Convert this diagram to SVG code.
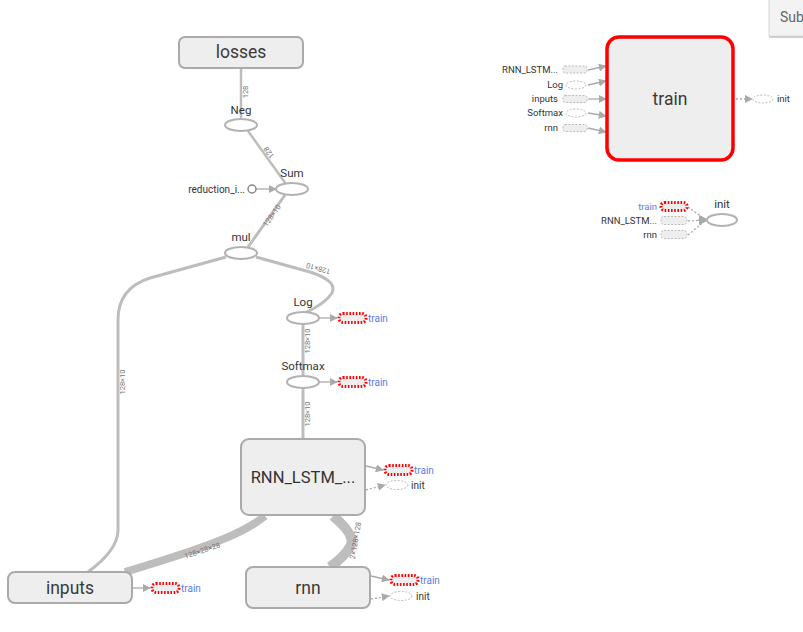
<svg xmlns="http://www.w3.org/2000/svg" width="803" height="632" viewBox="0 0 803 632">
<defs>
<style>
.box{fill:#eeeeee;stroke:#aaaaaa;stroke-width:2}
.op{fill:#ffffff;stroke:#b2b2b2;stroke-width:2}
.lbl{font-family:"Roboto","Liberation Sans",sans-serif;fill:#333;}
.big{font-size:17.5px;text-anchor:middle;fill:#3a3a3a}
.opl{font-size:11.5px;text-anchor:middle}
.sm{font-size:10px}
.el{font-family:"Roboto","Liberation Sans",sans-serif;font-size:7.5px;fill:#777;text-anchor:middle}
.edge{fill:none;stroke:#bdbdbd}
.ctl{fill:none;stroke:#aaaaaa;stroke-width:1.3}
.dot{fill:none;stroke:#aaaaaa;stroke-width:1.3;stroke-dasharray:2 2}
.ser{fill:#eeeeee;stroke:#ff0000;stroke-width:3;stroke-dasharray:1.6 1.6}
.ghost{fill:#eeeeee;stroke:#bbbbbb;stroke-width:1;stroke-dasharray:2 1.5}
.ghe{fill:#ffffff;stroke:#bbbbbb;stroke-width:1;stroke-dasharray:2 1.5}
.blue{fill:#5b7ee8}
</style>
<marker id="ar" viewBox="0 0 10 10" refX="9" refY="5" markerWidth="8" markerHeight="8" markerUnits="userSpaceOnUse" orient="auto"><path d="M0,0 L10,5 L0,10 z" fill="#aaaaaa"/></marker>
<marker id="ar2" viewBox="0 0 10 10" refX="9" refY="5" markerWidth="10" markerHeight="10" markerUnits="userSpaceOnUse" orient="auto"><path d="M0,0 L10,5 L0,10 z" fill="#aaaaaa"/></marker>
</defs>

<g id="edges">
<path class="edge" stroke-width="2.5" d="M241,68 L241,119"/>
<text class="el" transform="translate(248,92) rotate(-90)">128</text>
<path class="edge" stroke-width="2.5" d="M286,184 L248,131"/>
<text class="el" transform="translate(271,151) rotate(-126)">128</text>
<path class="edge" stroke-width="3" d="M248,247 L285,195"/>
<text class="el" transform="translate(274,217) rotate(-55)">128×10</text>
<path class="edge" stroke-width="3" d="M256,257 L310,272 Q338,281 332,293 Q326,303 305,313"/>
<text class="el" transform="translate(319,266) rotate(196)">128×10</text>
<path class="edge" stroke-width="3" d="M226,257 L150,278 Q118,288 118,320 L118,530 Q118,550 88,572"/>
<text class="el" transform="translate(125,382) rotate(-90)">128×10</text>
<path class="edge" stroke-width="3" d="M303,324 L303,376"/>
<text class="el" transform="translate(310,341) rotate(-90)">128×10</text>
<path class="edge" stroke-width="3" d="M303,388 L303,439"/>
<text class="el" transform="translate(310,414) rotate(-90)">128×10</text>
<path class="edge" stroke-width="8" d="M265,516 C245,532 215,545 125,572"/>
<text class="el" transform="translate(203,553) rotate(-18)">128×28×28</text>
<path class="edge" stroke-width="10" d="M333,516 Q357,536 350,547 Q344,557 330,567"/>
<text class="el" transform="translate(358,541) rotate(-80)">2×128×128</text>
<path class="ctl" marker-end="url(#ar)" d="M256,189 L276,189"/>
<path class="ctl" marker-end="url(#ar)" d="M319,318 L337,318"/>
<path class="ctl" marker-end="url(#ar)" d="M319,382 L337,382"/>
<path class="ctl" marker-end="url(#ar)" d="M366,466 L383,470"/>
<path class="dot" marker-end="url(#ar)" d="M366,490 L385,485"/>
<path class="ctl" marker-end="url(#ar)" d="M132,588 L150,588"/>
<path class="ctl" marker-end="url(#ar)" d="M371,576 L389,580"/>
<path class="dot" marker-end="url(#ar)" d="M371,599 L389,596"/>
<path class="ctl" marker-end="url(#ar)" d="M588,70 L606,66"/>
<path class="ctl" marker-end="url(#ar)" d="M588,85 L606,81"/>
<path class="ctl" marker-end="url(#ar)" d="M588,99 L606,99"/>
<path class="ctl" marker-end="url(#ar)" d="M588,113 L606,116"/>
<path class="ctl" marker-end="url(#ar)" d="M588,128 L606,132"/>
<path class="dot" marker-end="url(#ar)" d="M736,99 L752,99"/>
<path class="dot" d="M688,207 L706,220 M688,221 L706,220 M688,235 L706,220"/>
<path class="ctl" marker-end="url(#ar2)" d="M698,220 L708,220"/>
</g>

<g id="node-losses"><rect class="box" x="179" y="37" width="124" height="31" rx="6"/><text class="lbl big" x="241" y="58">losses</text></g>
<g id="node-Neg"><text class="lbl opl" x="241" y="114">Neg</text><ellipse class="op" cx="241" cy="125" rx="16" ry="6"/></g>
<g id="node-Sum"><text class="lbl opl" x="292" y="177">Sum</text><ellipse class="op" cx="292" cy="189" rx="16" ry="6"/></g>
<g id="node-reduction"><circle cx="252" cy="189" r="4" fill="#fff" stroke="#888" stroke-width="1.5"/><text class="lbl sm" x="245" y="193" text-anchor="end">reduction_i...</text></g>
<g id="node-mul"><text class="lbl opl" x="241" y="241">mul</text><ellipse class="op" cx="241" cy="253" rx="16" ry="6"/></g>
<g id="node-Log"><text class="lbl opl" x="303" y="306">Log</text><ellipse class="op" cx="303" cy="318" rx="16" ry="6"/>
<rect class="ser" x="339" y="313.5" width="27" height="9" rx="4"/><text class="lbl sm blue" x="368" y="321.5">train</text></g>
<g id="node-Softmax"><text class="lbl opl" x="303" y="370">Softmax</text><ellipse class="op" cx="303" cy="382" rx="16" ry="6"/>
<rect class="ser" x="339" y="377.5" width="27" height="9" rx="4"/><text class="lbl sm blue" x="368" y="385.5">train</text></g>
<g id="node-RNN_LSTM"><rect class="box" x="241" y="439" width="124" height="76" rx="8"/><text class="lbl" font-size="16.5" text-anchor="middle" fill="#3a3a3a" x="303" y="483">RNN_LSTM_...</text>
<rect class="ser" x="385" y="465.5" width="27" height="9" rx="4"/><text class="lbl sm blue" x="414" y="474">train</text>
<ellipse class="ghe" cx="397" cy="485" rx="11" ry="4.5"/><text class="lbl sm" x="411" y="489">init</text></g>
<g id="node-inputs"><rect class="box" x="8" y="572" width="124" height="31" rx="7"/><text class="lbl big" x="70" y="594">inputs</text>
<rect class="ser" x="152" y="583.5" width="27" height="9" rx="4"/><text class="lbl sm blue" x="181" y="591.5">train</text></g>
<g id="node-rnn"><rect class="box" x="246" y="567" width="124" height="41" rx="7"/><text class="lbl big" x="308" y="594">rnn</text>
<rect class="ser" x="391" y="575.5" width="27" height="9" rx="4"/><text class="lbl sm blue" x="420" y="584">train</text>
<ellipse class="ghe" cx="401" cy="596" rx="11" ry="4.5"/><text class="lbl sm" x="416" y="600">init</text></g>

<g id="node-train">
<rect x="607" y="37" width="126" height="123" rx="12" fill="#eeeeee" stroke="#ff0000" stroke-width="3.5"/>
<text class="lbl big" x="670" y="105">train</text>
<rect class="ghost" x="563" y="66" width="24" height="7" rx="2"/><text class="lbl" font-size="9.5" text-anchor="end" x="558" y="73">RNN_LSTM...</text>
<ellipse class="ghe" cx="576" cy="85" rx="10" ry="4"/><text class="lbl" font-size="9.5" text-anchor="end" x="563" y="88">Log</text>
<rect class="ghost" x="563" y="95.5" width="24" height="7" rx="2"/><text class="lbl" font-size="9.5" text-anchor="end" x="558" y="102">inputs</text>
<ellipse class="ghe" cx="576" cy="113" rx="10" ry="4"/><text class="lbl" font-size="9.5" text-anchor="end" x="563" y="116">Softmax</text>
<rect class="ghost" x="563" y="124.5" width="24" height="7" rx="2"/><text class="lbl" font-size="9.5" text-anchor="end" x="558" y="131">rnn</text>
<ellipse class="ghe" cx="763" cy="99" rx="10" ry="4"/><text class="lbl" font-size="9.5" x="777" y="102">init</text>
</g>
<g id="node-init">
<text class="lbl opl" x="722" y="208">init</text><ellipse class="op" cx="722" cy="220" rx="15" ry="6"/>
<rect class="ser" x="661" y="202.5" width="26" height="8" rx="3.5"/><text class="lbl blue" font-size="9.5" x="657" y="210" text-anchor="end">train</text>
<rect class="ghost" x="661" y="216.5" width="26" height="8" rx="3"/><text class="lbl" font-size="9.5" x="657" y="224" text-anchor="end">RNN_LSTM...</text>
<rect class="ghost" x="661" y="230.5" width="26" height="8" rx="3"/><text class="lbl" font-size="9.5" x="657" y="238" text-anchor="end">rnn</text>
</g>
<g id="info-card">
<rect x="769" y="-6" width="44" height="42" fill="#f3f3f3" stroke="#d8d8d8" stroke-width="1"/>
<path d="M769,37 L803,37" stroke="#cfcfcf" stroke-width="2"/>
<text font-family="Roboto,'Liberation Sans',sans-serif" font-size="14" fill="#666" x="780" y="22">Sub</text>
</g>
</svg>
